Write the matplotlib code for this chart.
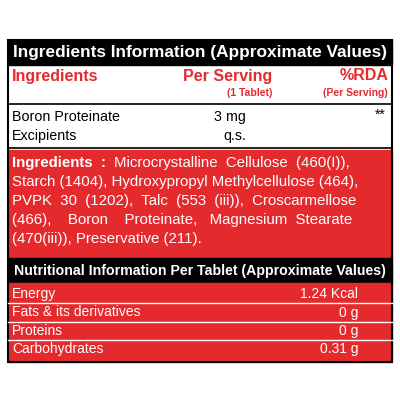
import matplotlib
matplotlib.use("Agg")
import matplotlib.pyplot as plt
from matplotlib.patches import Rectangle

red = '#e52a2e'
title1 = 'Ingredients Information (Approximate Values)'
head_cols = ['Ingredients', 'Per Serving', '%RDA']
head_sub = ['', '(1 Tablet)', '(Per Serving)']
ingr_names = ['Boron Proteinate', 'Excipients']
ingr_amounts = ['3 mg', 'q.s.']
ingr_rda = ['**', '']
ingr_lines = [
    'Microcrystalline  Cellulose  (460(I)),',
    'Starch (1404), Hydroxypropyl Methylcellulose (464),',
    'PVPK  30  (1202),  Talc  (553  (iii)),  Croscarmellose',
    '(466),    Boron    Proteinate,   Magnesium  Stearate',
    '(470(iii)), Preservative (211).',
]
title2 = 'Nutritional Information Per Tablet (Approximate Values)'
nut_names = ['Energy', 'Fats & its derivatives', 'Proteins', 'Carbohydrates']
nut_values = ['1.24 Kcal', '0 g', '0 g', '0.31 g']

fig = plt.figure(figsize=(4, 4), dpi=100)
ax = fig.add_axes([0, 0, 1, 1])
ax.set_xlim(0, 400)
ax.set_ylim(400, 0)
ax.axis('off')
F = 'Liberation Sans'

# top black header
ax.add_patch(Rectangle((8, 40), 384, 25, color='black'))
ax.text(200, 53, title1, color='white', fontsize=12.4, fontweight='bold', ha='center', va='center', family=F)
# header row
ax.text(12, 76, head_cols[0], color=red, fontsize=11.5, fontweight='bold', va='center', family=F)
ax.text(272, 76, head_cols[1], color=red, fontsize=11.5, fontweight='bold', va='center', ha='right', family=F)
ax.text(388, 76, head_cols[2], color=red, fontsize=11.5, fontweight='bold', va='center', ha='right', family=F)
ax.text(272, 93, head_sub[1], color=red, fontsize=7.5, fontweight='bold', va='center', ha='right', family=F)
ax.text(388, 93, head_sub[2], color=red, fontsize=7.5, fontweight='bold', va='center', ha='right', family=F)
ax.plot([8, 392], [104, 104], color='black', lw=1.2)
for i, (n, a, r) in enumerate(zip(ingr_names, ingr_amounts, ingr_rda)):
    y = 117 + i * 19
    ax.text(12, y, n, fontsize=10.3, va='center', family=F)
    ax.text(246, y, a, fontsize=10.3, va='center', ha='right', family=F)
    ax.text(386, y - 2, r, fontsize=10, va='center', ha='right', family=F)
ax.plot([8, 392], [148, 148], color='black', lw=1.2)
# red ingredients block
ax.add_patch(Rectangle((8, 150), 384, 108, color=red))
ax.text(12, 163, 'Ingredients  :', color='white', fontsize=10.8, fontweight='bold', va='center', family=F)
ax.text(114, 163, ingr_lines[0], color='white', fontsize=10.8, va='center', family=F)
for i, line in enumerate(ingr_lines[1:]):
    ax.text(12, 182 + i * 19, line, color='white', fontsize=10.8, va='center', family=F)
# second black header
ax.add_patch(Rectangle((8, 258), 384, 25, color='black'))
ax.text(200, 271, title2, color='white', fontsize=10.2, fontweight='bold', ha='center', va='center', family=F)
# nutrition rows
ax.add_patch(Rectangle((8, 283), 384, 79, color=red))
for i, (n, v) in enumerate(zip(nut_names, nut_values)):
    y = 294 + i * 18.5
    ax.text(12, y, n, color='white', fontsize=10, va='center', family=F)
    ax.text(358, y, v, color='white', fontsize=10, va='center', ha='right', family=F)
    if i:
        ax.plot([8, 392], [y - 9.5, y - 9.5], color='white', lw=1)
# outer border
ax.add_patch(Rectangle((8, 40), 384, 322, fill=False, ec='black', lw=1.5))
fig.savefig('out.png', dpi=100, facecolor='white')
